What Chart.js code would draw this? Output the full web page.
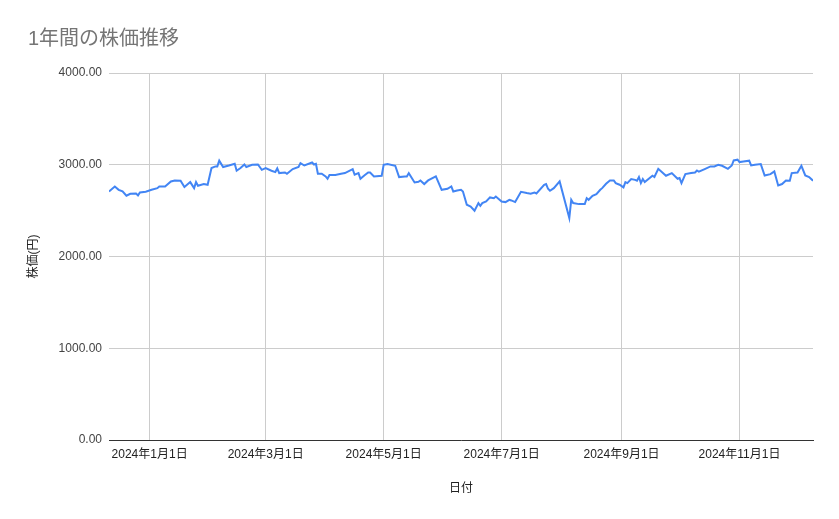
<!DOCTYPE html>
<html lang="ja">
<head>
<meta charset="UTF-8">
<title>1年間の株価推移</title>
<script src="https://cdn.jsdelivr.net/npm/chart.js@4.4.1/dist/chart.umd.min.js"></script>
<style>
    html, body { margin: 0; padding: 0; background: #fff; }
    #wrap { width: 839px; height: 519px; position: relative; }
</style>
</head>
<body>
<div id="wrap"><canvas id="stockChart"></canvas></div>
<script>
"use strict";

// ===== DATA =====
const dates = [
    '2023-12-11', '2023-12-14', '2023-12-16', '2023-12-18', '2023-12-20', '2023-12-22', '2023-12-25', '2023-12-26',
    '2023-12-27', '2023-12-30', '2024-01-02', '2024-01-05', '2024-01-06', '2024-01-09', '2024-01-12', '2024-01-14',
    '2024-01-17', '2024-01-19', '2024-01-22', '2024-01-24', '2024-01-25', '2024-01-26', '2024-01-29', '2024-01-31',
    '2024-02-02', '2024-02-04', '2024-02-05', '2024-02-06', '2024-02-08', '2024-02-11', '2024-02-14', '2024-02-15',
    '2024-02-17', '2024-02-19', '2024-02-20', '2024-02-23', '2024-02-26', '2024-02-28', '2024-03-01', '2024-03-04',
    '2024-03-06', '2024-03-07', '2024-03-08', '2024-03-11', '2024-03-12', '2024-03-15', '2024-03-18', '2024-03-19',
    '2024-03-21', '2024-03-25', '2024-03-26', '2024-03-27', '2024-03-28', '2024-03-30', '2024-04-01', '2024-04-02',
    '2024-04-03', '2024-04-06', '2024-04-09', '2024-04-11', '2024-04-15', '2024-04-16', '2024-04-18', '2024-04-19',
    '2024-04-21', '2024-04-23', '2024-04-24', '2024-04-26', '2024-04-30', '2024-05-01', '2024-05-03', '2024-05-07',
    '2024-05-09', '2024-05-12', '2024-05-13', '2024-05-14', '2024-05-17', '2024-05-19', '2024-05-20', '2024-05-22',
    '2024-05-24', '2024-05-28', '2024-05-31', '2024-06-03', '2024-06-05', '2024-06-06', '2024-06-08', '2024-06-10',
    '2024-06-11', '2024-06-13', '2024-06-15', '2024-06-17', '2024-06-19', '2024-06-20', '2024-06-21', '2024-06-23',
    '2024-06-25', '2024-06-27', '2024-06-28', '2024-07-01', '2024-07-03', '2024-07-05', '2024-07-06', '2024-07-08',
    '2024-07-11', '2024-07-14', '2024-07-16', '2024-07-18', '2024-07-19', '2024-07-23', '2024-07-24', '2024-07-25',
    '2024-07-26', '2024-07-28', '2024-07-31', '2024-08-05', '2024-08-06', '2024-08-07', '2024-08-10', '2024-08-13',
    '2024-08-14', '2024-08-15', '2024-08-17', '2024-08-19', '2024-08-21', '2024-08-22', '2024-08-24', '2024-08-26',
    '2024-08-28', '2024-08-29', '2024-08-31', '2024-09-02', '2024-09-03', '2024-09-04', '2024-09-06', '2024-09-08',
    '2024-09-09', '2024-09-10', '2024-09-11', '2024-09-12', '2024-09-13', '2024-09-17', '2024-09-18', '2024-09-20',
    '2024-09-24', '2024-09-27', '2024-09-30', '2024-10-01', '2024-10-02', '2024-10-04', '2024-10-07', '2024-10-09',
    '2024-10-10', '2024-10-11', '2024-10-14', '2024-10-17', '2024-10-19', '2024-10-21', '2024-10-23', '2024-10-26',
    '2024-10-28', '2024-10-29', '2024-10-31', '2024-11-01', '2024-11-03', '2024-11-06', '2024-11-07', '2024-11-09',
    '2024-11-12', '2024-11-14', '2024-11-17', '2024-11-19', '2024-11-21', '2024-11-23', '2024-11-25', '2024-11-27',
    '2024-11-28', '2024-12-01', '2024-12-03', '2024-12-05', '2024-12-07', '2024-12-09'
];

const prices = [
    2709, 2763, 2727, 2709, 2662, 2684, 2687, 2666,
    2698, 2706, 2727, 2745, 2763, 2763, 2818, 2829,
    2826, 2757, 2811, 2745, 2811, 2771, 2790, 2782,
    2964, 2982, 2982, 3044, 2975, 2992, 3011, 2935,
    2964, 3003, 2975, 3000, 3003, 2945, 2964, 2935,
    2920, 2960, 2909, 2916, 2902, 2953, 2975, 3018,
    2992, 3025, 3003, 3011, 2902, 2902, 2873, 2847,
    2888, 2888, 2902, 2909, 2953, 2891, 2909, 2847,
    2883, 2916, 2916, 2873, 2880, 3000, 3007, 2989,
    2866, 2873, 2873, 2909, 2807, 2815, 2829, 2790,
    2829, 2873, 2727, 2738, 2763, 2709, 2720, 2727,
    2709, 2564, 2545, 2499, 2582, 2553, 2582, 2600,
    2644, 2636, 2654, 2600, 2593, 2618, 2611, 2593,
    2705, 2691, 2684, 2698, 2687, 2782, 2790, 2738,
    2716, 2745, 2818, 2420, 2618, 2582, 2571, 2571,
    2636, 2618, 2662, 2680, 2727, 2745, 2793, 2829,
    2829, 2800, 2782, 2753, 2811, 2800, 2844, 2835,
    2826, 2866, 2800, 2844, 2811, 2880, 2866, 2956,
    2880, 2909, 2847, 2855, 2800, 2898, 2909, 2916,
    2938, 2924, 2953, 2982, 2982, 3000, 2989, 2956,
    2992, 3047, 3055, 3029, 3036, 3044, 2992, 3000,
    3007, 2883, 2898, 2927, 2774, 2790, 2829, 2826,
    2909, 2916, 2989, 2883, 2866, 2826
];

const tickDates = ['2024-01-01', '2024-03-01', '2024-05-01', '2024-07-01', '2024-09-01', '2024-11-01'];
const yTicks = [0, 1000, 2000, 3000, 4000];

const chartTitle = '1年間の株価推移';
const xTitle = '日付';
const yTitle = '株価(円)';

// ===== HELPERS =====
const BASE_DAY = Date.parse('2024-01-01');
const FONT = "Arial, 'Liberation Sans', 'Noto Sans CJK JP', sans-serif";

function dayOf(str) {
    return Math.round((Date.parse(str) - BASE_DAY) / 864e5);
}

function formatDay(v) {
    const d = new Date(BASE_DAY + v * 864e5);
    return d.getUTCFullYear() + '年' + (d.getUTCMonth() + 1) + '月' + d.getUTCDate() + '日';
}

const points = dates.map((d, i) => ({ x: dayOf(d), y: prices[i] }));

// ===== CHART =====
function initChart() {
    const ctx = document.getElementById('stockChart');

    const cfg = {
        type: 'line',
        data: {
            datasets: [{
                label: '株価',
                data: points,
                borderColor: '#4285F4',
                borderWidth: 2,
                pointRadius: 0,
                tension: 0,
                fill: false
            }]
        },
        options: {
            responsive: true,
            maintainAspectRatio: false,
            animation: false,
            layout: { padding: { left: 28, right: 26, top: 0, bottom: 0 } },
            plugins: {
                legend: { display: false },
                tooltip: { enabled: false },
                title: {
                    display: true,
                    text: chartTitle,
                    align: 'start',
                    color: '#757575',
                    font: { family: FONT, size: 20, weight: 'normal' },
                    padding: { top: 27, bottom: 22 }
                }
            },
            scales: {
                x: {
                    type: 'linear',
                    min: dayOf(dates[0]),
                    max: dayOf(dates[dates.length - 1]),
                    afterBuildTicks: (scale) => {
                        scale.ticks = tickDates.map(d => ({ value: dayOf(d) }));
                    },
                    afterFit: (scale) => { scale.height = 79; },
                    ticks: {
                        autoSkip: false,
                        maxRotation: 0,
                        padding: 7,
                        color: '#222',
                        font: { family: FONT, size: 12 },
                        callback: (v) => formatDay(v)
                    },
                    grid: { color: '#cccccc', drawTicks: false },
                    border: { display: true, color: '#333', width: 1 },
                    title: {
                        display: true,
                        text: xTitle,
                        color: '#222',
                        font: { family: FONT, size: 12 },
                        padding: { top: 4, bottom: 23 }
                    }
                },
                y: {
                    min: 0,
                    max: 4000,
                    afterBuildTicks: (scale) => {
                        scale.ticks = yTicks.map(v => ({ value: v }));
                    },
                    afterFit: (scale) => { scale.width = 81; },
                    ticks: {
                        padding: 7,
                        color: '#444',
                        font: { family: FONT, size: 12 },
                        callback: (v) => Number(v).toFixed(2)
                    },
                    grid: { color: '#cccccc', drawTicks: false },
                    border: { display: false },
                    title: {
                        display: true,
                        text: yTitle,
                        color: '#222',
                        font: { family: FONT, size: 12 },
                        padding: { top: -2, bottom: 4 }
                    }
                }
            }
        }
    };

    new Chart(ctx, cfg);
}

document.addEventListener('DOMContentLoaded', initChart);
</script>
</body>
</html>
